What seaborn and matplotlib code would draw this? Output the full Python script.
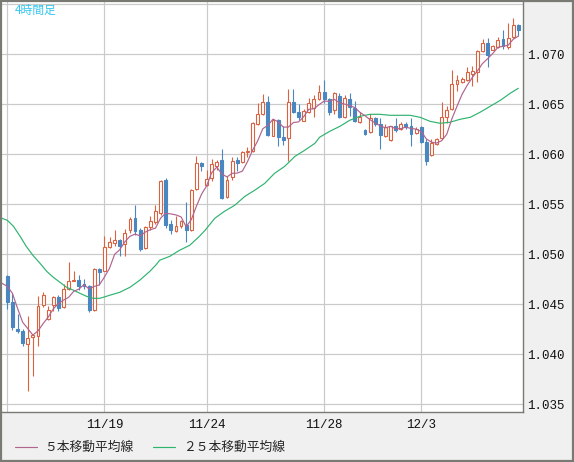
import matplotlib
matplotlib.use("Agg")
import matplotlib.pyplot as plt
from matplotlib.patches import Rectangle
import numpy as np
import pandas as pd
import seaborn as sns

# ---------------- data ----------------
opens = [1.0478, 1.0452, 1.0425, 1.0423, 1.0410, 1.0417, 1.0418, 1.0449, 1.0435, 1.0449,
         1.0457, 1.0447, 1.0465, 1.0473, 1.0474, 1.0470, 1.0468, 1.0444, 1.0485, 1.0483,
         1.0507, 1.0511, 1.0514, 1.0510, 1.0524, 1.0536, 1.0524, 1.0506, 1.0527, 1.0532,
         1.0541, 1.0574, 1.0530, 1.0523, 1.0528, 1.0529, 1.0524, 1.0565, 1.0591, 1.0569,
         1.0576, 1.0588, 1.0594, 1.0557, 1.0577, 1.0594, 1.0592, 1.0602, 1.0603, 1.0630,
         1.0640, 1.0652, 1.0618, 1.0634, 1.0617, 1.0616, 1.0652, 1.0642, 1.0633, 1.0642,
         1.0646, 1.0655, 1.0662, 1.0655, 1.0644, 1.0658, 1.0637, 1.0655, 1.0646, 1.0632,
         1.0624, 1.0622, 1.0636, 1.0630, 1.0618, 1.0614, 1.0628, 1.0625, 1.0630, 1.0628,
         1.0621, 1.0627, 1.0612, 1.0599, 1.0610, 1.0616, 1.0637, 1.0645, 1.0670, 1.0672,
         1.0674, 1.0680, 1.0682, 1.0703, 1.0711, 1.0704, 1.0707, 1.0715, 1.0707, 1.0717,
         1.0729]
highs = [1.0479, 1.0461, 1.0440, 1.0425, 1.0438, 1.0419, 1.0458, 1.0462, 1.0448, 1.0458,
         1.0459, 1.0470, 1.0492, 1.0483, 1.0479, 1.0475, 1.0469, 1.0486, 1.0486, 1.0518,
         1.0517, 1.0524, 1.0515, 1.0525, 1.0537, 1.0549, 1.0526, 1.0528, 1.0538, 1.0549,
         1.0574, 1.0576, 1.0534, 1.0538, 1.0534, 1.0552, 1.0565, 1.0598, 1.0592, 1.0584,
         1.0595, 1.0594, 1.0605, 1.0578, 1.0597, 1.0597, 1.0603, 1.0607, 1.0632, 1.0651,
         1.0660, 1.0658, 1.0635, 1.0635, 1.0628, 1.0665, 1.0665, 1.0650, 1.0645, 1.0656,
         1.0659, 1.0669, 1.0674, 1.0656, 1.0662, 1.0661, 1.0659, 1.0661, 1.0653, 1.0642,
         1.0625, 1.0640, 1.0637, 1.0636, 1.0630, 1.0628, 1.0636, 1.0632, 1.0632, 1.0636,
         1.0627, 1.0628, 1.0615, 1.0615, 1.0616, 1.0652, 1.0648, 1.0684, 1.0679, 1.0677,
         1.0687, 1.0688, 1.0704, 1.0715, 1.0716, 1.0709, 1.0717, 1.0724, 1.0731, 1.0736,
         1.0730]
lows = [1.0445, 1.0424, 1.0421, 1.0408, 1.0363, 1.0378, 1.0408, 1.0447, 1.0434, 1.0443,
        1.0443, 1.0446, 1.0464, 1.0473, 1.0464, 1.0465, 1.0442, 1.0443, 1.0469, 1.0483,
        1.0506, 1.0508, 1.0498, 1.0498, 1.0521, 1.0519, 1.0503, 1.0505, 1.0524, 1.0530,
        1.0539, 1.0526, 1.0520, 1.0522, 1.0526, 1.0512, 1.0523, 1.0564, 1.0583, 1.0568,
        1.0573, 1.0584, 1.0555, 1.0556, 1.0574, 1.0583, 1.0591, 1.0597, 1.0602, 1.0629,
        1.0639, 1.0618, 1.0618, 1.0608, 1.0609, 1.0593, 1.0641, 1.0634, 1.0633, 1.0641,
        1.0637, 1.0654, 1.0651, 1.0639, 1.0640, 1.0636, 1.0636, 1.0638, 1.0632, 1.0631,
        1.0619, 1.0621, 1.0628, 1.0605, 1.0617, 1.0613, 1.0622, 1.0624, 1.0625, 1.0608,
        1.0620, 1.0611, 1.0589, 1.0598, 1.0609, 1.0615, 1.0631, 1.0644, 1.0663, 1.0671,
        1.0673, 1.0668, 1.0672, 1.0702, 1.0687, 1.0704, 1.0706, 1.0705, 1.0705, 1.0716,
        1.0718]
closes = [1.0452, 1.0427, 1.0423, 1.0411, 1.0416, 1.0419, 1.0448, 1.0459, 1.0444, 1.0457,
          1.0446, 1.0465, 1.0473, 1.0474, 1.0468, 1.0468, 1.0444, 1.0485, 1.0482, 1.0507,
          1.0512, 1.0514, 1.0508, 1.0521, 1.0535, 1.0523, 1.0505, 1.0527, 1.0533, 1.0543,
          1.0573, 1.0529, 1.0524, 1.0528, 1.0533, 1.0524, 1.0564, 1.0591, 1.0588, 1.0575,
          1.0590, 1.0592, 1.0556, 1.0574, 1.0593, 1.0591, 1.0602, 1.0603, 1.0631, 1.0640,
          1.0652, 1.0619, 1.0634, 1.0617, 1.0614, 1.0652, 1.0642, 1.0637, 1.0643, 1.0651,
          1.0655, 1.0662, 1.0655, 1.0642, 1.0661, 1.0637, 1.0656, 1.0647, 1.0633, 1.0637,
          1.0620, 1.0636, 1.0630, 1.0619, 1.0627, 1.0628, 1.0624, 1.0630, 1.0627, 1.0620,
          1.0625, 1.0612, 1.0593, 1.0611, 1.0615, 1.0637, 1.0644, 1.0670, 1.0674, 1.0675,
          1.0682, 1.0683, 1.0703, 1.0711, 1.0699, 1.0708, 1.0714, 1.0708, 1.0716, 1.0729,
          1.0724]

# 5-bar MA values at the left edge (their earlier closes are not shown)
ma5_lead_x = [-1.04, 0, 1, 2, 3]
ma5_lead_y = [1.0471, 1.0468, 1.0461, 1.0446, 1.0432]

# 25-bar MA (bar index, price)
ma25_x = [-1.04, 0, 1.2, 2.5, 3.7, 5, 6.4, 7.7, 9, 10.3, 11.6, 13, 14.2, 15.5, 16.8,
          18.1, 19.4, 20, 22, 24, 25.9, 27.9, 29.2, 29.8, 31.8, 33.7, 35.7, 37.6, 38.7,
          40.6, 42.5, 44.5, 46.5, 48.4, 50.4, 52.3, 54.3, 56.3, 58.2, 60.2, 61.1, 63.1,
          65.1, 67, 69, 71, 72.9, 74.9, 76.9, 78.8, 80.8, 82.7, 84.7, 86.6, 88.6, 90.6,
          92.5, 94.5, 96.5, 98.4, 100]
ma25_y = [1.0536, 1.0534, 1.0528, 1.0518, 1.0508, 1.0499, 1.0491, 1.0483, 1.0477, 1.0472,
          1.0467, 1.0464, 1.0461, 1.0458, 1.0456, 1.0456, 1.0458, 1.0459, 1.0462, 1.0467,
          1.0474, 1.0483, 1.0490, 1.0494, 1.0498, 1.0504, 1.0509, 1.0518, 1.0524, 1.0536,
          1.0543, 1.0549, 1.0558, 1.0564, 1.0571, 1.0581, 1.0588, 1.0598, 1.0604, 1.0611,
          1.0617, 1.0623, 1.0628, 1.0634, 1.0638, 1.0640, 1.0640, 1.0639, 1.0639, 1.0639,
          1.0637, 1.0633, 1.0631, 1.0632, 1.0635, 1.0637, 1.0642, 1.0648, 1.0654, 1.0661,
          1.0666]

date_ticks = [0, 19, 39, 62, 81]
date_labels = ["", "11/19", "11/24", "11/28", "12/3"]
price_ticks = [1.035, 1.040, 1.045, 1.050, 1.055, 1.060, 1.065, 1.070, 1.075]
price_labels = ["1.035", "1.040", "1.045", "1.050", "1.055", "1.060", "1.065", "1.070", ""]
title = "4時間足"
ma5_label = "５本移動平均線"
ma25_label = "２５本移動平均線"

# ---------------- style ----------------
UP = "#d9623f"
DOWN = "#4a86c0"
MA5C = "#b0648e"
MA25C = "#2fb36f"
GRID = "#cacaca"
FRAME = "#7a7a74"
PANEL = "#f0f0f0"

sns.set_theme(style="white")
plt.rcParams["font.family"] = ["Liberation Mono", "Noto Sans CJK JP", "DejaVu Sans"]
CJK = ["Noto Sans CJK JP", "DejaVu Sans"]
PX = 0.72  # one pixel in points at dpi 100

W, H = 574, 462
fig = plt.figure(figsize=(W / 100, H / 100), dpi=100, facecolor=PANEL)
ax_l, ax_r, ax_t, ax_b = 2.0, 523.3, 2.0, 411.7
ax = fig.add_axes([ax_l / W, (H - ax_b) / H, (ax_r - ax_l) / W, (ax_b - ax_t) / H])
ax.set_facecolor("white")

df = pd.DataFrame({"o": opens, "h": highs, "l": lows, "c": closes})
df["i"] = np.arange(len(df))
up = df["c"] >= df["o"]

# wicks
ax.vlines(df["i"][up], df["l"][up], df["h"][up], colors=UP, lw=PX * 1.1, zorder=2)
ax.vlines(df["i"][~up], df["l"][~up], df["h"][~up], colors=DOWN, lw=PX * 1.1, zorder=2)
# bodies
bw = 0.56
ax.bar(df["i"][up], (df["c"] - df["o"])[up], bottom=df["o"][up], width=bw,
       color="white", edgecolor=UP, linewidth=PX * 1.1, zorder=3)
ax.bar(df["i"][~up], (df["o"] - df["c"])[~up], bottom=df["c"][~up], width=bw,
       color=DOWN, edgecolor=DOWN, linewidth=PX * 1.1, zorder=3)

# moving averages
ma5 = df["c"].rolling(5).mean()
ma5_df = pd.concat([
    pd.DataFrame({"x": ma5_lead_x, "y": ma5_lead_y}),
    pd.DataFrame({"x": df["i"][4:], "y": ma5[4:]}),
], ignore_index=True)
ma25_df = pd.DataFrame({"x": ma25_x, "y": ma25_y})

sns.lineplot(data=ma25_df, x="x", y="y", ax=ax, color=MA25C, lw=0.85, zorder=4,
             label=ma25_label)
sns.lineplot(data=ma5_df, x="x", y="y", ax=ax, color=MA5C, lw=0.85, zorder=5,
             label=ma5_label)

# axes / scales
ax.set_xlim(-1.04, 100.98)
ax.set_ylim(1.03426, 1.07523)
ax.set_xlabel("")
ax.set_ylabel("")
ax.set_xticks(date_ticks)
ax.set_xticklabels(date_labels)
ax.set_yticks(price_ticks)
ax.set_yticklabels(price_labels)
ax.yaxis.tick_right()
ax.tick_params(axis="y", length=0, pad=2.6, labelsize=9, labelcolor="#111111")
ax.tick_params(axis="x", length=0, pad=5.5, labelsize=9, labelcolor="#111111")
ax.grid(True, color=GRID, lw=PX * 1.2)
ax.set_axisbelow(True)
for s in ["left", "top"]:
    ax.spines[s].set_visible(False)
for s in ["right", "bottom"]:
    ax.spines[s].set_color(FRAME)
    ax.spines[s].set_linewidth(1.0)

# legend below
handles, labels = ax.get_legend_handles_labels()
order = [labels.index(ma5_label), labels.index(ma25_label)]
ax.get_legend().remove()
fig.legend([handles[k] for k in order], [labels[k] for k in order],
           loc="center left", bbox_to_anchor=(15 / W, 1 - 447.5 / H),
           bbox_transform=fig.transFigure, ncol=2, frameon=False,
           handlelength=1.7, handletextpad=0.6, columnspacing=1.55,
           borderpad=0, borderaxespad=0, prop={"family": CJK, "size": 9.2})

# title
fig.text(15 / W, 1 - 3.5 / H, title, color="#33c6f0", fontsize=8.5, va="top",
         ha="left", family=CJK)

# outer frame
fig.patches.append(Rectangle((0.6 / W, 0.6 / H), 1 - 1.4 / W, 1 - 1.4 / H,
                             transform=fig.transFigure, fill=False,
                             edgecolor=FRAME, lw=1.6))

fig.savefig("out.png", dpi=100, facecolor=PANEL)
